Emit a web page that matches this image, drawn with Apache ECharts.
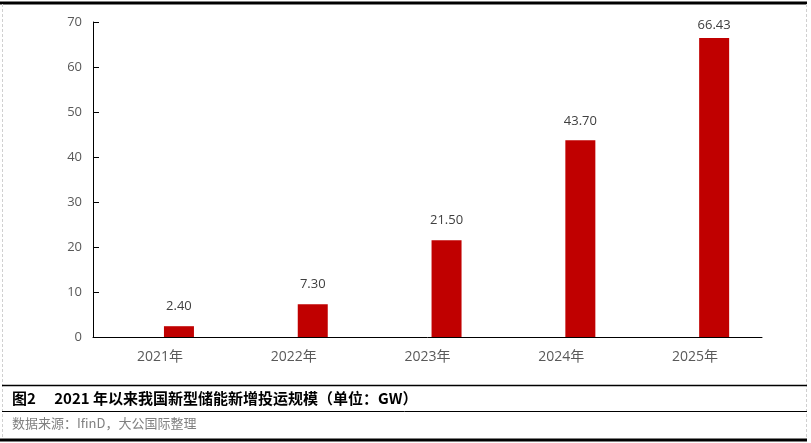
<!DOCTYPE html>
<html>
<head>
<meta charset="utf-8">
<script src="https://cdn.jsdelivr.net/npm/echarts@6/dist/echarts.min.js"></script>
<style>
html,body{margin:0;padding:0;background:#fff;}
#c{width:811px;height:443px;}
</style>
</head>
<body>
<div id="c"></div>
<script>
var categories = ['2021年', '2022年', '2023年', '2024年', '2025年'];
var capacityGW = [2.40, 7.30, 21.50, 43.70, 66.43];
var placeholder = [null, null, null, null, null];
var yTicks = { min: 0, max: 70, interval: 10 };
var captionText = '图2\u3000 2021 年以来我国新型储能新增投运规模（单位：GW）';
var sourceText = '数据来源：IfinD，大公国际整理';

var chart = echarts.init(document.getElementById('c'), null, { renderer: 'canvas' });
var labelFont = '"Open Sans", "Noto Sans CJK SC", sans-serif';
var barData = capacityGW.map(function (v, i) {
  var item = { value: v };
  if (i === capacityGW.length - 1) { item.label = { distance: 6 }; }
  return item;
});
var option = {
  backgroundColor: '#ffffff',
  animation: false,
  grid: { left: 93, right: 49, top: 22, bottom: 106, containLabel: false },
  xAxis: {
    type: 'category',
    data: categories,
    axisLine: { lineStyle: { color: '#000', width: 1 } },
    axisTick: { inside: true, length: 6, lineStyle: { color: '#000' } },
    axisLabel: { color: '#595959', fontSize: 14, fontFamily: labelFont, margin: 13 }
  },
  yAxis: {
    type: 'value',
    min: yTicks.min, max: yTicks.max, interval: yTicks.interval,
    axisLine: { show: true, lineStyle: { color: '#000', width: 1 } },
    axisTick: { show: true, inside: true, length: 6, lineStyle: { color: '#000' } },
    splitLine: { show: false },
    axisLabel: { color: '#595959', fontSize: 13, fontFamily: labelFont, margin: 11 }
  },
  series: [
    {
      name: 'placeholder', type: 'bar', data: placeholder,
      barWidth: 30, barGap: '27%', silent: true
    },
    {
      name: '新增投运规模', type: 'bar', data: barData,
      barWidth: 30, barGap: '27%',
      itemStyle: { color: '#C00000' },
      label: {
        show: true, position: 'top', distance: 13,
        color: '#404040', fontSize: 13, fontFamily: labelFont,
        formatter: function (p) { return Number(p.value).toFixed(2); }
      }
    }
  ],
  graphic: [
    { type: 'line', shape: { x1: 0, y1: 3, x2: 807, y2: 3 }, style: { stroke: '#000', lineWidth: 3 } },
    { type: 'line', shape: { x1: 2.5, y1: 4, x2: 2.5, y2: 438 }, style: { stroke: '#d0d0d0', lineWidth: 1, lineDash: [3, 2] } },
    { type: 'line', shape: { x1: 806.5, y1: 4, x2: 806.5, y2: 438 }, style: { stroke: '#d0d0d0', lineWidth: 1, lineDash: [3, 2] } },
    { type: 'line', shape: { x1: 2, y1: 385.5, x2: 807, y2: 385.5 }, style: { stroke: '#000', lineWidth: 1.5 } },
    { type: 'line', shape: { x1: 2, y1: 411.5, x2: 807, y2: 411.5 }, style: { stroke: '#000', lineWidth: 1 } },
    { type: 'line', shape: { x1: 0, y1: 440, x2: 807, y2: 440 }, style: { stroke: '#000', lineWidth: 3 } },
    { type: 'text', left: 12, top: 391, style: { text: captionText, fill: '#000', font: 'bold 15px "Noto Sans CJK SC", sans-serif' } },
    { type: 'text', left: 12, top: 417, style: { text: sourceText, fill: '#808080', font: '13px "Noto Sans CJK SC", sans-serif' } }
  ]
};
chart.setOption(option);
</script>
</body>
</html>
